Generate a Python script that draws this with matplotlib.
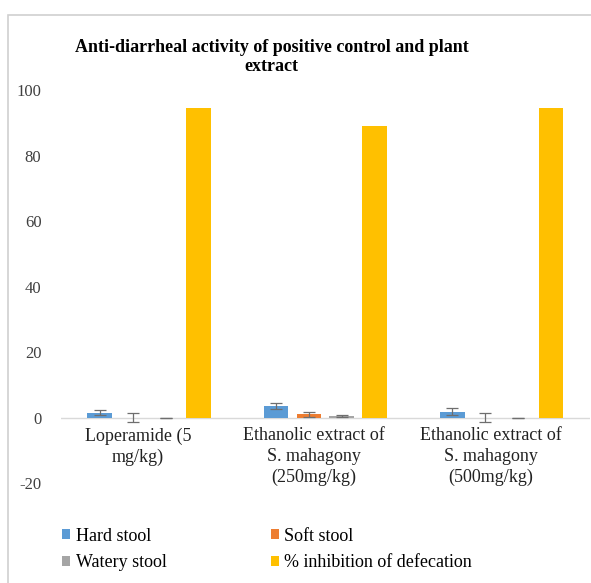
import matplotlib
matplotlib.use("Agg")
import matplotlib.pyplot as plt
from matplotlib.patches import Rectangle
import numpy as np

categories = ["Loperamide (5\nmg/kg)",
              "Ethanolic extract of\nS. mahagony\n(250mg/kg)",
              "Ethanolic extract of\nS. mahagony\n(500mg/kg)"]
series_names = ["Hard stool", "Soft stool", "Watery stool", "% inhibition of defecation"]
hard_stool = [1.5, 3.5, 1.8]
soft_stool = [0.0, 1.0, 0.0]
watery_stool = [0.0, 0.5, 0.0]
inhibition = [94.6, 89.0, 94.6]
hard_err = [0.8, 1.0, 1.0]
soft_err = [1.5, 0.8, 1.5]
watery_err = [0.0, 0.3, 0.0]
y_ticks = [-20, 0, 20, 40, 60, 80, 100]

colors = ["#5B9BD5", "#ED7D31", "#A5A5A5", "#FFC000"]
serif = ["Liberation Serif", "DejaVu Serif"]

fig = plt.figure(figsize=(5.91, 5.83), dpi=100)
ax = fig.add_axes([0.103, 0.1715, 0.895, 0.674])

# outer chart frame
fig.patches.append(Rectangle((8 / 591, -0.01), 1.2, 1 - 15 / 583 + 0.01,
                             transform=fig.transFigure, fill=False,
                             edgecolor="#D0D0D0", linewidth=1.2))

x = np.arange(len(categories))
step = 0.187
width = 0.14
values = [hard_stool, soft_stool, watery_stool, inhibition]
errors = [hard_err, soft_err, watery_err, None]
handles = []
for i, (vals, errs) in enumerate(zip(values, errors)):
    pos = x + (i - 1.5) * step
    b = ax.bar(pos, vals, width, color=colors[i], label=series_names[i], zorder=2)
    handles.append(b)
    if errs is not None:
        ax.errorbar(pos, vals, yerr=errs, fmt="none", ecolor="#6E6E6E",
                    elinewidth=0.9, capsize=4, capthick=0.9, zorder=3)

ax.set_xlim(-0.5, 2.5)
ax.set_ylim(-20, 100)
ax.set_yticks(y_ticks)
ax.set_yticklabels([str(t) for t in y_ticks], fontsize=12, color="#404040",
                   family=serif)
ax.tick_params(axis="y", length=0, pad=14)
ax.set_xticks([])
for s in ax.spines.values():
    s.set_visible(False)
ax.axhline(0, color="#D9D9D9", linewidth=1.0, zorder=1)

# category labels sit just under the zero line
for xi, lab in zip(x, categories):
    ax.annotate(lab, xy=(xi, 0), xytext=(-8, -7), textcoords="offset points",
                ha="center", va="top", fontsize=13, family=serif,
                color="#222222", linespacing=1.28)

fig.text(0.46, 0.902, "Anti-diarrheal activity of positive control and plant\nextract",
         ha="center", va="center", fontsize=13, fontweight="bold",
         family=serif, linespacing=1.15)

order = [0, 2, 1, 3]
fig.legend(handles=[handles[k] for k in order],
           labels=[series_names[k] for k in order],
           loc="upper left", bbox_to_anchor=(0.078, 0.123), ncol=2,
           frameon=False, prop={"family": serif, "size": 13},
           handlelength=0.45, handleheight=0.45, handletextpad=0.3,
           columnspacing=5.77, labelspacing=0.55)

fig.savefig("out.png", dpi=100)
